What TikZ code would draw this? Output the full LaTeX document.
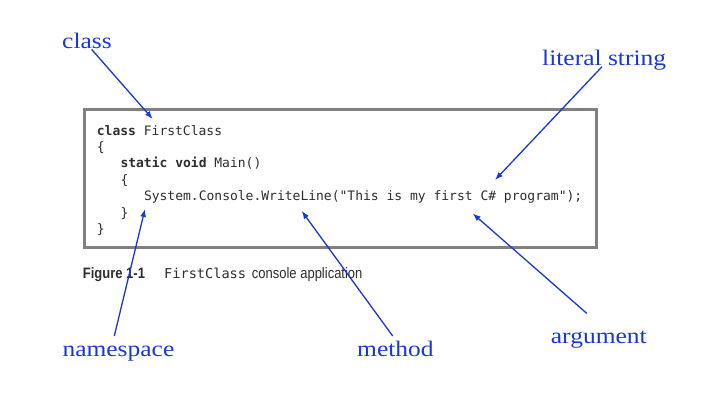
\documentclass[tikz,border=0pt]{standalone}
\usepackage{fontspec}
\setmainfont{Liberation Serif}
\newfontfamily\codefont{DejaVu Sans Mono}
\newfontfamily\capfont{Liberation Sans}
\usetikzlibrary{arrows.meta}
\definecolor{lblblue}{RGB}{25,55,215}
\definecolor{codegray}{RGB}{45,45,45}
\definecolor{boxgray}{RGB}{128,128,128}
\tikzset{
  lbl/.style={anchor=base west, inner sep=0pt, text=lblblue, font=\fontsize{25.5}{30}\selectfont},
  codeline/.style={anchor=base west, inner sep=0pt, text=codegray, font=\codefont\fontsize{13}{16}\selectfont},
  captxt/.style={anchor=base west, inner sep=0pt, text=codegray, font=\capfont\fontsize{13}{16}\selectfont},
  ptr/.style={draw=lblblue, line width=1.3pt, -{Latex[length=8pt,width=6pt]}},
  codebox/.style={draw=boxgray, line width=3pt}
}
\newcommand{\sq}[1]{\scalebox{1}[0.87]{#1}}
\newcommand{\tall}[1]{\scalebox{1}[1.16]{#1}}
\begin{document}
\begin{tikzpicture}[x=1pt,y=-1pt]
\useasboundingbox (0,0) rectangle (718,415);
\draw[codebox] (84.5,109.5) rectangle (596.5,247.5);
% code
\node[codeline] (l1) at (96.7,135) {\textbf{class} FirstClass};
\node[codeline] (l2) at (96.7,151.5) {\{};
\node[codeline] (l3) at (120.3,167.8) {\textbf{static void} Main()};
\node[codeline] (l4) at (120.3,184.2) {\{};
\node[codeline] (l5) at (143.8,200.6) {System.Console.WriteLine("This is my first C\# program");};
\node[codeline] (l6) at (120.3,217) {\}};
\node[codeline] (l7) at (96.7,233.4) {\}};
% caption
\node[captxt, font=\capfont\bfseries\fontsize{13}{16}\selectfont] (cap1) at (82.7,278.2) {\tall{Figure 1-1}};
\node[captxt, font=\codefont\fontsize{13.6}{16}\selectfont] (cap2) at (164,278.2) {FirstClass};
\node[captxt] (cap3) at (251.7,278.2) {\tall{console application}};
% labels
\node[lbl] (tclass) at (62,48.3) {\sq{class}};
\node[lbl] (tlit) at (542,65) {\sq{literal string}};
\node[lbl] (tns) at (62.3,356.7) {\sq{namespace}};
\node[lbl] (tmeth) at (357,356.7) {\sq{method}};
\node[lbl] (targ) at (550.7,343.3) {\sq{argument}};
% pointer ends
\coordinate (s1) at (91.7,49.5);
\coordinate (e1) at (152.7,119);
\coordinate (s2) at (602,66.7);
\coordinate (e2) at (495,180);
\coordinate (s3) at (114.3,336);
\coordinate (e3) at (145,209);
\coordinate (s4) at (392.7,336);
\coordinate (e4) at (301.7,211);
\coordinate (s5) at (586.7,313.3);
\coordinate (e5) at (472.7,213.5);
\draw[ptr] (s1) -- (e1);
\draw[ptr] (s2) -- (e2);
\draw[ptr] (s3) -- (e3);
\draw[ptr] (s4) -- (e4);
\draw[ptr] (s5) -- (e5);
\end{tikzpicture}
\end{document}
